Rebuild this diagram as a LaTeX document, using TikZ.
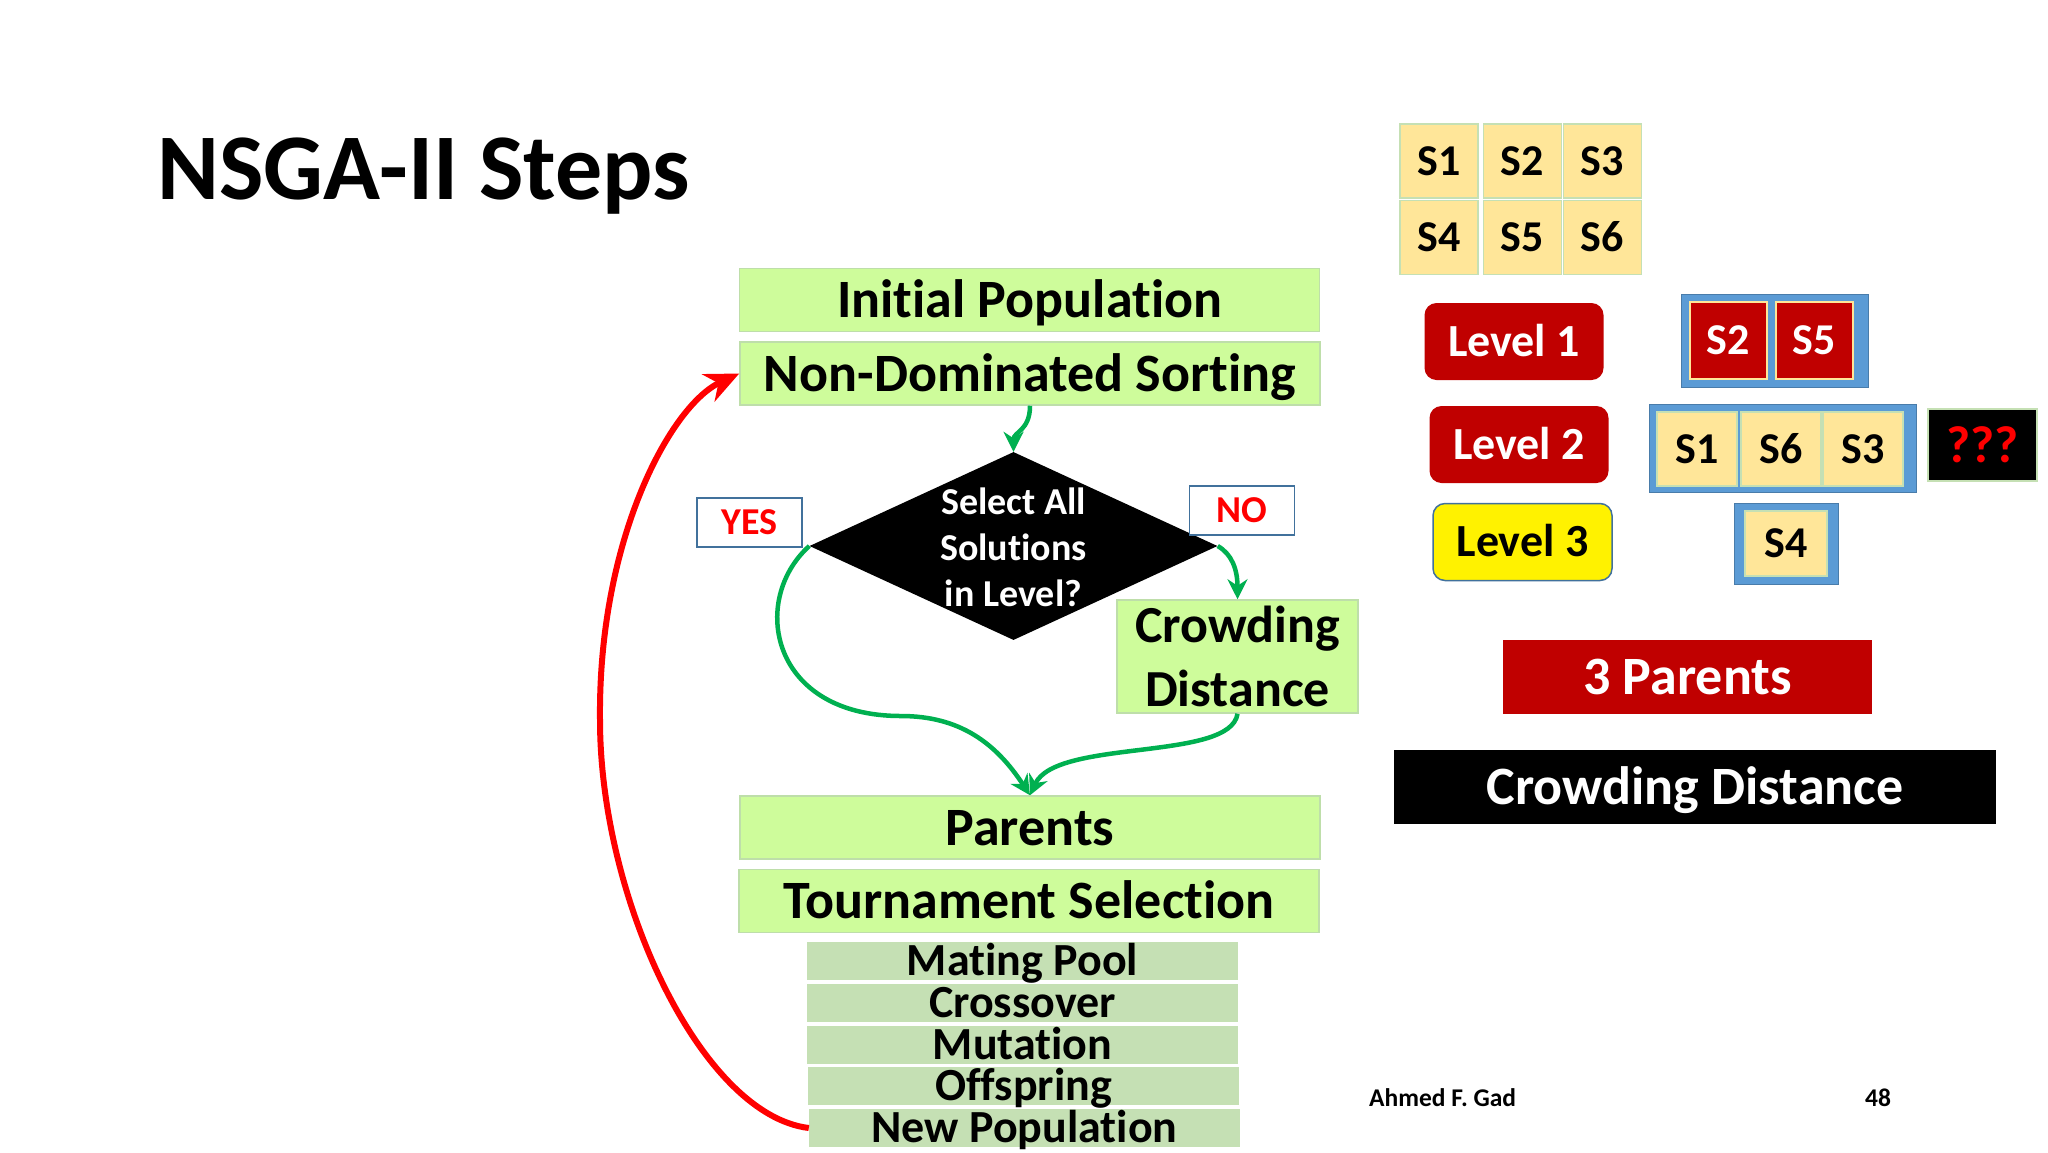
\documentclass[tikz,border=0pt]{standalone}
\usepackage{fontspec}
\setmainfont{Carlito}[Ligatures={NoCommon,NoContextual}]
\usetikzlibrary{shapes.geometric,arrows.meta}
\definecolor{stepgreen}{RGB}{206,252,155}
\definecolor{stepedge}{RGB}{190,222,170}
\definecolor{subgreen}{RGB}{197,224,180}
\definecolor{solfill}{RGB}{255,230,153}
\definecolor{darkred}{RGB}{192,0,0}
\definecolor{framblue}{RGB}{91,155,213}
\definecolor{tagedge}{RGB}{65,113,156}
\definecolor{flowgreen}{RGB}{0,176,80}
\tikzset{
  stepbox/.style={draw=stepedge, line width=1.5pt, fill=stepgreen, inner sep=0pt,
    text height=35pt, text depth=0pt,
    minimum width=580pt, minimum height=63pt, font=\bfseries\fontsize{54}{60}\selectfont},
  substep/.style={fill=subgreen, inner sep=0pt, minimum width=431pt, minimum height=38pt,
    text height=29.5pt, text depth=0pt, font=\bfseries\fontsize{46}{46}\selectfont},
  decision/.style={shape=diamond, fill=black, inner sep=0pt, minimum width=408pt, minimum height=188pt},
  answer/.style={draw=tagedge, line width=1.5pt, fill=white, inner sep=0pt, text=red,
    text height=24.5pt, text depth=0pt,
    minimum width=105pt, minimum height=49pt, font=\bfseries\fontsize{38}{38}\selectfont},
  solbox/.style={draw=subgreen, line width=1.5pt, fill=solfill, inner sep=0pt,
    text height=28pt, text depth=0pt,
    minimum width=78pt, minimum height=74pt, font=\bfseries\fontsize{44}{44}\selectfont},
  redsol/.style={solbox, fill=darkred, draw=solfill, text=white, minimum width=77pt, minimum height=77pt},
  levelbox/.style={fill=darkred, rounded corners=12pt, inner sep=0pt, text=white,
    text height=29.5pt, text depth=0pt,
    minimum width=179pt, minimum height=77pt, font=\bfseries\fontsize{46}{46}\selectfont},
  groupframe/.style={fill=framblue, draw=framblue!80!black, line width=1pt, inner sep=0pt},
  banner/.style={inner sep=0pt, text=white, minimum height=74pt, text height=35pt, text depth=0pt,
    font=\bfseries\fontsize{54}{54}\selectfont},
  flowarrow/.style={draw=flowgreen, line width=4.5pt, -{Stealth[length=20pt,width=20pt]}},
  backarrow/.style={draw=red, line width=6pt, -{Stealth[length=34pt,width=30pt]}},
}

\begin{document}
\begin{tikzpicture}[x=1pt,y=1pt,yscale=-1,xscale=1]
\path[use as bounding box, fill=white] (0,0) rectangle (2048,1152);
%Title
\node (title) [anchor=base west, inner sep=0pt, font=\bfseries\fontsize{94}{94}\selectfont] at (157,199) {NSGA-II Steps};
%Steps
\node (init) [stepbox] at (1029.5,300) {Initial Population};
\node (nds) [stepbox] at (1030,373.5) {Non-Dominated Sorting};
\node (sel) [decision] at (1013.5,546) {};
\node (seltext) [text=white, align=center, inner sep=0pt, font=\bfseries\fontsize{38}{46}\selectfont] at (1013.5,547) {Select All\\Solutions\\in Level?};
\node (yes) [answer] at (749.5,522.5) {YES};
\node (no) [answer] at (1242,510.5) {NO};
\node (crowd) [stepbox, text height=, text depth=, minimum width=241pt, minimum height=113pt, align=center, font=\bfseries\fontsize{52}{64}\selectfont] at (1237.5,656.5) {Crowding\\Distance};
\node (par) [stepbox] at (1030,827.5) {Parents};
\node (tour) [stepbox] at (1029,901) {Tournament Selection};
\node (mate) [substep] at (1022.5,961) {Mating Pool};
\node (cross) [substep] at (1022.5,1002.5) {Crossover};
\node (mut) [substep] at (1022.5,1044.5) {Mutation};
\node (off) [substep] at (1023.5,1086) {Offspring};
\node (newpop) [substep] at (1024.5,1128) {New Population};
%Curve Lines
\coordinate (yesbend) at (901,716);
\coordinate (loopbend) at (600,720);
\draw [flowarrow] (nds.south) .. controls +(0,25) and +(0,-20) .. (sel.north);
\draw [flowarrow] (sel.west) .. controls +(-60,54) and +(-131,0) .. (yesbend) .. controls +(59,0) and +(-34,-52) .. (par.north);
\draw [flowarrow] (sel.east) .. controls +(14,8) and +(0,-30) .. (crowd.north);
\draw [flowarrow] (crowd.south) .. controls +(-7,48) and +(26,-57) .. (par.north);
\draw [backarrow] (newpop.west) .. controls +(-107,-13) and +(0,180) .. (loopbend) .. controls +(-2,-180) and +(-69,32) .. (nds.west);
%Solutions
\node (s1) [solbox] at (1439,161) {S1};
\node (s2) [solbox] at (1522.5,161) {S2};
\node (s3) [solbox] at (1602.5,161) {S3};
\node (s4) [solbox] at (1439,237.5) {S4};
\node (s5) [solbox] at (1522.5,237.5) {S5};
\node (s6) [solbox] at (1602.5,237.5) {S6};
%Levels
\node (lev1) [levelbox] at (1514,341.5) {Level 1};
\node (lev2) [levelbox] at (1519,444.5) {Level 2};
\node (lev3) [levelbox, fill=yellow, draw=tagedge, line width=1.5pt, text=black] at (1522.5,542) {Level 3};
\node (frame1) [groupframe, minimum width=187pt, minimum height=93pt] at (1774.5,340.5) {};
\node (l1s2) [redsol] at (1728.5,340.5) {S2};
\node (l1s5) [redsol] at (1814.5,340.5) {S5};
\node (frame2) [groupframe, minimum width=267pt, minimum height=88pt] at (1782.5,448) {};
\node (l2s1) [solbox, minimum width=80pt] at (1697,449) {S1};
\node (l2s6) [solbox, minimum width=80pt] at (1781,449) {S6};
\node (l2s3) [solbox, minimum width=80pt] at (1863,449) {S3};
\node (frame3) [groupframe, minimum width=104pt, minimum height=81pt] at (1786,543.5) {};
\node (l3s4) [solbox, minimum width=82pt, minimum height=65pt] at (1786,543.5) {S4};
\node (unknown) [banner, fill=black, draw=subgreen, line width=1.5pt, text=red, minimum width=109pt, minimum height=72pt, font=\bfseries\fontsize{52}{52}\selectfont] at (1982.5,445) {???};
\node (threepar) [banner, fill=darkred, minimum width=369pt] at (1687.5,677) {3 Parents};
\node (crowdnote) [banner, fill=black, minimum width=602pt] at (1695,787) {Crowding Distance};
%Footer
\node (author) [anchor=west, inner sep=0pt, font=\bfseries\fontsize{25.5}{25.5}\selectfont] at (1369,1098) {Ahmed F. Gad};
\node (page) [inner sep=0pt, font=\bfseries\fontsize{25.5}{25.5}\selectfont] at (1878,1098) {48};
\end{tikzpicture}
\end{document}
